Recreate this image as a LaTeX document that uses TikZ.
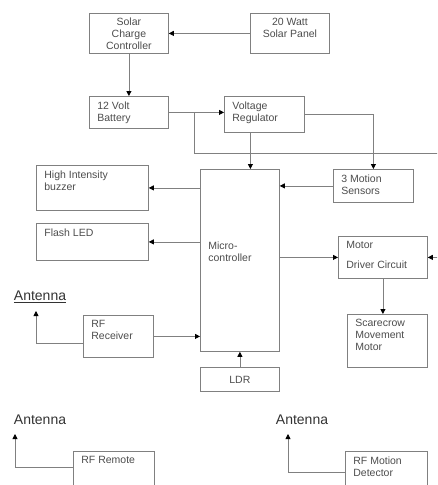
\documentclass[tikz,border=0pt]{standalone}
\usepackage{fontspec}
\setmainfont{Liberation Sans}
\usetikzlibrary{arrows.meta,positioning,calc}
\newcommand{\blk}[4][0]{\parbox[c][\dimexpr#3pt-10pt\relax][t]{\dimexpr#2pt-16pt\relax}{\raggedright\vspace*{#1pt}#4}}

\begin{document}
\begin{tikzpicture}[
    x=1pt, y=-1pt,
    font=\fontsize{10.5}{12}\selectfont,
    box/.style={rectangle, draw=gray, line width=0.8pt, inner xsep=8pt, inner ysep=5pt, anchor=north west, text=black!70},
    cbox/.style={box, align=center, inner sep=0pt},
    ant/.style={font=\fontsize{14}{16}\selectfont, text=black!80, inner sep=0pt},
    arrow/.style={draw=gray, line width=0.8pt, -{Triangle[length=5pt,width=5pt,black]}}
]
    \useasboundingbox (0,0) rectangle (437,485);
    \clip (0,0) rectangle (437,485);

    \node[cbox, minimum width=79pt, minimum height=40pt] (ctrl) at (89,13) {Solar\\Charge\\Controller};
    \node[box] (panel) at (250,13) {\blk{79}{40}{\centering 20 Watt\\Solar Panel}};
    \node[box] (battery) at (89,96) {\blk{79}{32}{12 Volt\\Battery}};
    \node[box] (reg) at (224,96) {\blk{80}{36}{Voltage\\Regulator}};
    \node[box] (buzzer) at (36,165) {\blk{112}{45}{High Intensity\\buzzer}};
    \node[box] (led) at (36,223) {\blk{112}{37}{Flash LED}};
    \node[box] (micro) at (200,169) {\blk[67]{79}{182}{Micro-\\controller}};
    \node[box] (sensors) at (333,169) {\blk{80}{33}{3 Motion\\Sensors}};
    \node[box] (driver) at (338,236) {\blk{89}{42}{Motor\\[8pt]Driver Circuit}};
    \node[box] (rx) at (83,315) {\blk{70}{42}{RF\\Receiver}};
    \node[cbox, minimum width=79pt, minimum height=24pt] (ldr) at (200,367) {LDR};
    \node[box] (motor) at (347,314) {\blk{80}{53}{Scarecrow\\Movement\\Motor}};
    \node[box] (remote) at (73,451) {\blk{81}{60}{RF Remote}};
    \node[box] (detector) at (345,451) {\blk{82}{60}{RF Motion\\Detector}};

    \node[ant] (ant1) at (40,297) {\underline{Antenna}};
    \node[ant] (ant2) at (40,420) {Antenna};
    \node[ant] (ant3) at (302,420) {Antenna};
    \coordinate (tip1) at (36,311);
    \coordinate (tip2) at (15,434);
    \coordinate (tip3) at (288,434);
    \coordinate (tap) at (194,112);
    \coordinate (bus) at (445,153);

    \draw[arrow] (panel) -- (ctrl);
    \draw[arrow] (ctrl) -- (battery);
    \draw[arrow] (battery.east) -- (battery.east -| reg.west);
    \draw[arrow] (tap) |- (bus) |- (driver.east);
    \draw[arrow] (reg.east) -| (sensors.north);
    \draw[arrow] ([xshift=-14pt]reg.south) -- ([xshift=-14pt]reg.south |- micro.north);
    \draw[arrow] (buzzer.east -| micro.west) -- (buzzer.east);
    \draw[arrow] (led.east -| micro.west) -- (led.east);
    \draw[arrow] (sensors.west) -- (sensors.west -| micro.east);
    \draw[arrow] (driver.west -| micro.east) -- (driver.west);
    \draw[arrow] (driver.south) -- (driver.south |- motor.north);
    \draw[arrow] (rx.east) -- (rx.east -| micro.west);
    \draw[arrow] (ldr) -- (micro);
    \draw[arrow] ([yshift=-7pt]rx.west) -| (tip1);
    \draw[arrow] ([yshift=-16pt]remote.north west) -| (tip2);
    \draw[arrow] ([yshift=-21pt]detector.north west) -| (tip3);
\end{tikzpicture}
\end{document}
